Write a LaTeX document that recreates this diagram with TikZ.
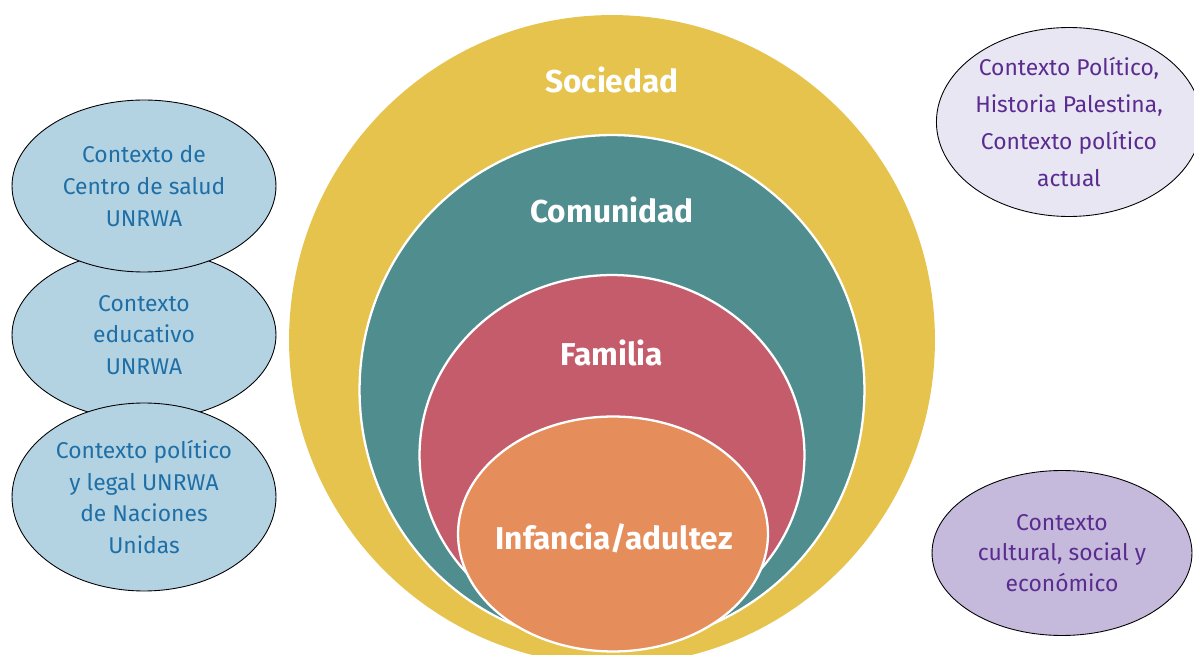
\documentclass[tikz,border=0pt]{standalone}
\usepackage{fontspec}
\setmainfont{Fira Sans}
\usetikzlibrary{shapes.geometric}
\definecolor{sociedad}{HTML}{E5C34D}
\definecolor{comunidad}{HTML}{4F8D8F}
\definecolor{familia}{HTML}{C45C6B}
\definecolor{infancia}{HTML}{E68D5C}
\definecolor{unrwafill}{HTML}{B3D3E3}
\definecolor{unrwatext}{HTML}{1F6FA6}
\definecolor{polfill}{HTML}{E9E6F4}
\definecolor{culfill}{HTML}{C5B9DC}
\definecolor{purpletext}{HTML}{5B2C8F}
\tikzstyle{ring} = [
		ellipse,
		inner sep = 0pt,
		draw = white,
		line width = 1.3pt
	]
\tikzstyle{ringlabel} = [
		text = white,
		font = \bfseries\fontsize{18}{22}\selectfont
	]
\tikzstyle{unrwa} = [
		ellipse,
		inner sep = 0pt,
		draw = black,
		line width = .5pt,
		fill = unrwafill,
		text = unrwatext,
		align = center,
		minimum width = 5.28cm,
		font = \fontsize{13}{18}\selectfont
	]
\tikzstyle{outer} = [
		ellipse,
		inner sep = 0pt,
		draw = black,
		line width = .5pt,
		text = purpletext,
		align = center
	]

\begin{document}
\begin{tikzpicture}[x = .02cm, y = -.02cm]

	\useasboundingbox (0,0) rectangle (1194,655);
	\clip (0,0) rectangle (1194,655);

		%------------------------------Rings------------------------------
		\node [ring, fill = sociedad, draw = none, minimum width = 12.92cm, minimum height = 13cm] (soc) at (612,340) {};
		\node [ring, fill = comunidad, minimum width = 10.1cm, minimum height = 10.2cm] (com) at (612,390) {};
		\node [ring, fill = familia, minimum width = 7.7cm, minimum height = 7.2cm] (fam) at (612,455) {};
		\node [ring, fill = infancia, minimum width = 6.2cm, minimum height = 4.7cm] (inf) at (613,534) {};

		\node [ringlabel] (soc-label) at (612,80) {Sociedad};
		\node [ringlabel] (com-label) at (612,210) {Comunidad};
		\node [ringlabel] (fam-label) at (612,353) {Familia};
		\node [ringlabel] (inf-label) at (614,538) {Infancia/adultez};

		%------------------------------UNRWA------------------------------
		\node [unrwa, minimum height = 3.4cm] (edu) at (144,335) {Contexto\\educativo\\UNRWA};
		\node [unrwa, minimum height = 3.44cm] (salud) at (144,186) {Contexto de\\Centro de salud\\UNRWA};
		\node [unrwa, minimum height = 3.76cm] (legal) at (144,497) {Contexto político\\y legal UNRWA\\de Naciones\\Unidas};

		%------------------------------Context------------------------------
		\node [outer, fill = polfill, minimum width = 5.08cm, minimum height = 3.78cm,
			font = \fontsize{13}{21}\selectfont] (pol) at (1069,122) {Contexto Político,\\Historia Palestina,\\Contexto político\\actual};
		\node [outer, fill = culfill, minimum width = 5.2cm, minimum height = 3.3cm,
			font = \fontsize{13}{17.5}\selectfont] (cul) at (1062,553) {Contexto\\cultural, social y\\económico};

\end{tikzpicture}
\end{document}
